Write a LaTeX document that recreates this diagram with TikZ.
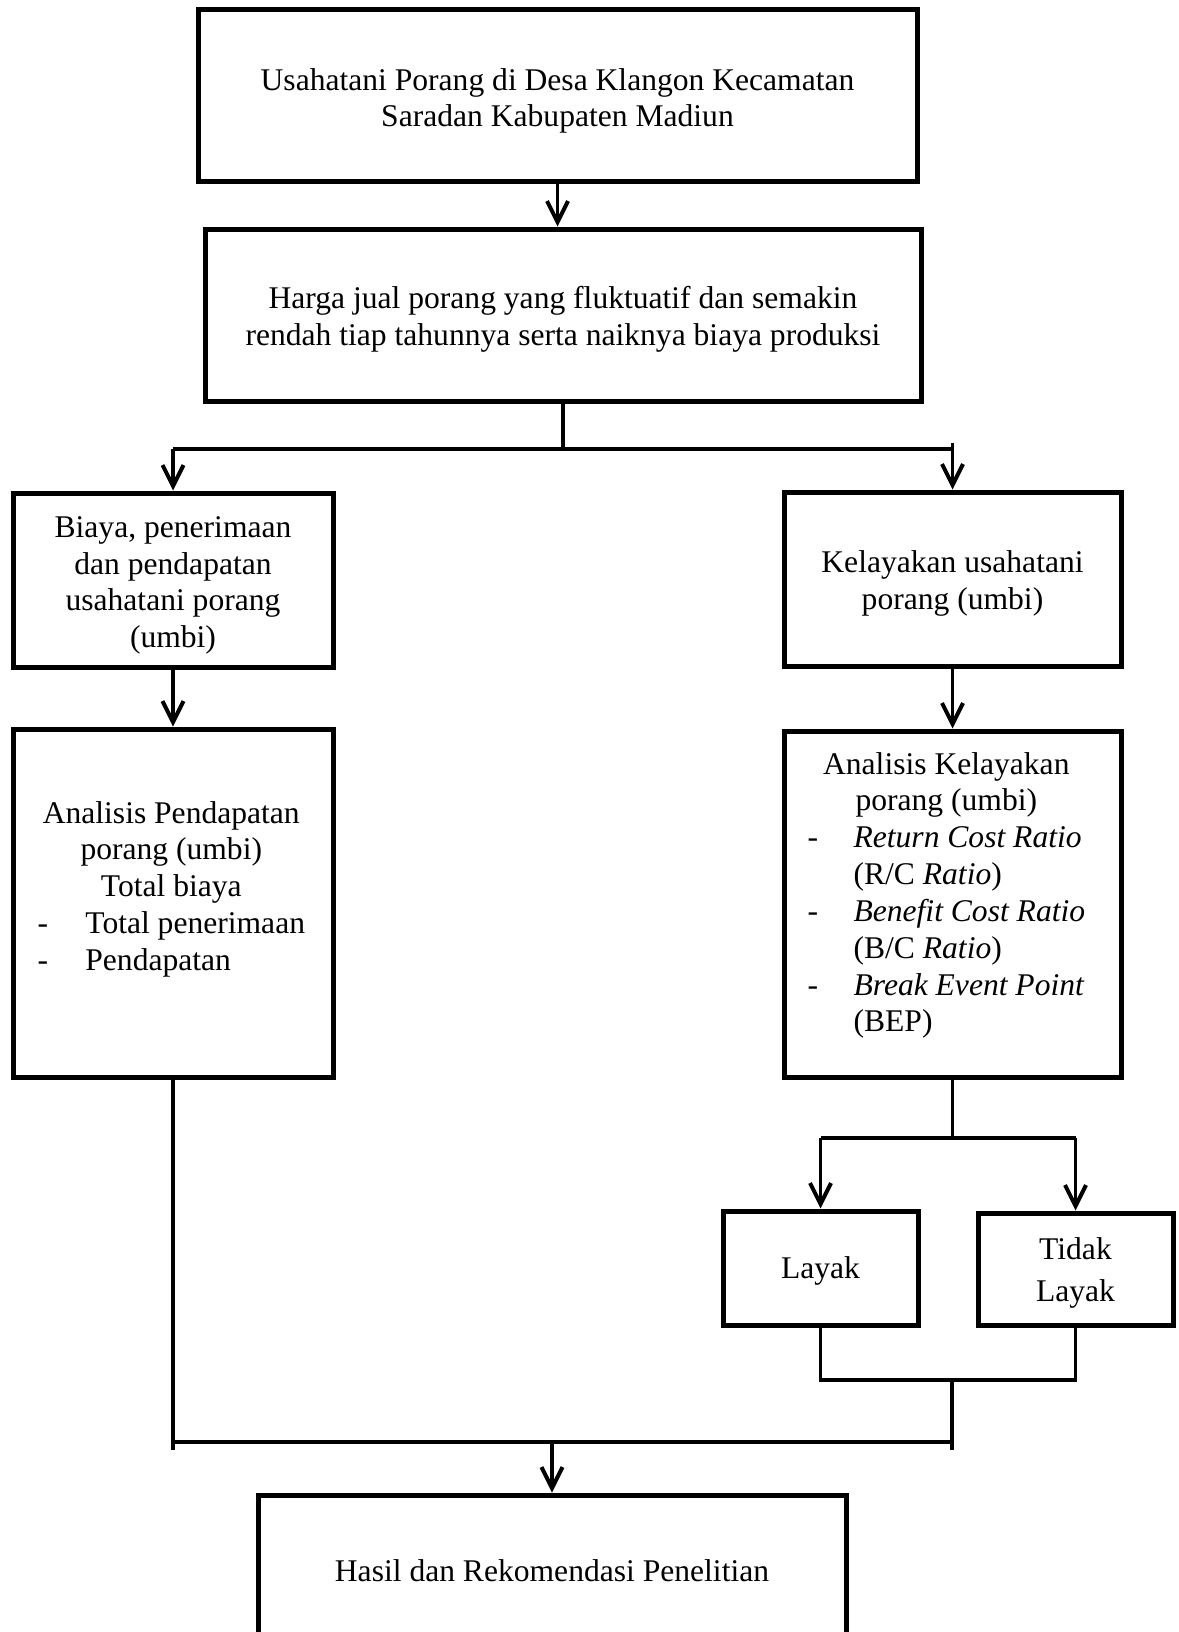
\documentclass[tikz,border=0pt]{standalone}
\usepackage{fontspec}
\setmainfont{Liberation Serif}
\usetikzlibrary{arrows.meta,calc}
\newcommand{\atas}[1][12pt]{\rule{0pt}{#1}}
\begin{document}
\begin{tikzpicture}[x=0.38pt, y=-0.38pt,
  kotak/.style={rectangle, draw=black, line width=1.9pt, align=center, inner sep=0pt, font=\fontsize{12}{14}\selectfont},
  teks/.style={inner sep=0pt, anchor=base west, font=\fontsize{12}{14}\selectfont},
  garis/.style={line width=1.5pt},
  panah/.style={line width=1.5pt, -{Straight Barb[length=8pt,width=8pt]}}]
\useasboundingbox (0,0) rectangle (1179,1632);
\node [kotak, minimum width=719*0.38pt, minimum height=172*0.38pt] (usaha) at (557.5,96) {\atas Usahatani Porang di Desa Klangon Kecamatan\\Saradan Kabupaten Madiun};
\node [kotak, minimum width=716*0.38pt, minimum height=172*0.38pt] (harga) at (563,315) {\atas Harga jual porang yang fluktuatif dan semakin\\rendah tiap tahunnya serta naiknya biaya produksi};
\node [kotak, minimum width=320*0.38pt, minimum height=174*0.38pt] (biaya) at (173,580) {\atas Biaya, penerimaan\\dan pendapatan\\usahatani porang\\(umbi)};
\node [kotak, minimum width=337*0.38pt, minimum height=174*0.38pt] (kelayakan) at (952.5,579) {\atas Kelayakan usahatani\\porang (umbi)};
\node [kotak, minimum width=320*0.38pt, minimum height=348*0.38pt] (pend) at (173,903) {};
\node [kotak, minimum width=337*0.38pt, minimum height=346*0.38pt] (analisis) at (952.5,904) {};
\node [kotak, minimum width=195*0.38pt, minimum height=114*0.38pt] (layak) at (820.5,1268) {\atas[10.5pt]Layak};
\node [kotak, minimum width=195*0.38pt, minimum height=112*0.38pt, font=\fontsize{12}{16}\selectfont] (tidak) at (1075.5,1269) {\atas[11pt]Tidak\\Layak};
\node [kotak, minimum width=588*0.38pt, minimum height=146*0.38pt] (hasil) at (552,1568) {\atas[10.5pt]Hasil dan Rekomendasi Penelitian};

\node [teks] (pendtxt) at (37,823) {\begin{tabular}[t]{@{}p{18.2pt}@{}l@{}}
\multicolumn{2}{@{}c@{}}{Analisis Pendapatan}\\
\multicolumn{2}{@{}c@{}}{porang (umbi)}\\
\multicolumn{2}{@{}c@{}}{Total biaya}\\
- & Total penerimaan\\
- & Pendapatan
\end{tabular}};
\node [teks] (analisistxt) at (807,774) {\begin{tabular}[t]{@{}p{17.5pt}@{}l@{}}
\multicolumn{2}{@{}c@{}}{Analisis Kelayakan}\\
\multicolumn{2}{@{}c@{}}{porang (umbi)}\\
- & \textit{Return Cost Ratio}\\
  & (R/C \textit{Ratio})\\
- & \textit{Benefit Cost Ratio}\\
  & (B/C \textit{Ratio})\\
- & \textit{Break Event Point}\\
  & (BEP)
\end{tabular}};

\draw [panah] (usaha.south) -- (usaha.south |- harga.north);
\coordinate (bagi) at (563,449);
\draw [garis] (harga.south) -- (harga.south |- bagi);
\draw [garis] (biaya.north |- bagi) -- (kelayakan.north |- bagi);
\draw [panah] (biaya.north |- bagi) -- (biaya.north);
\draw [panah] ($(kelayakan.north |- bagi)+(0,-6)$) -- (kelayakan.north);
\draw [panah] (biaya) -- (pend);
\draw [panah] (kelayakan) -- (analisis);
\coordinate (cabang) at (952.5,1138);
\draw [garis] (analisis) -- (cabang);
\draw [garis] (layak.north |- cabang) -- (tidak.north |- cabang);
\draw [panah] (layak.north |- cabang) -- (layak.north);
\draw [panah] (tidak.north |- cabang) -- (tidak.north);
\coordinate (gabung) at (952,1380);
\draw [garis] (layak.south) |- (gabung) -| (tidak.south);
\coordinate (temu) at (558,1442);
\draw [garis] (pend.south |- temu) -- (gabung |- temu);
\draw [garis] (pend) -- ($(pend.south |- temu)+(0,8)$);
\draw [garis] (gabung) -- ($(gabung |- temu)+(0,8)$);
\draw [panah] (hasil.north |- temu) -- (hasil.north);
\end{tikzpicture}
\end{document}
